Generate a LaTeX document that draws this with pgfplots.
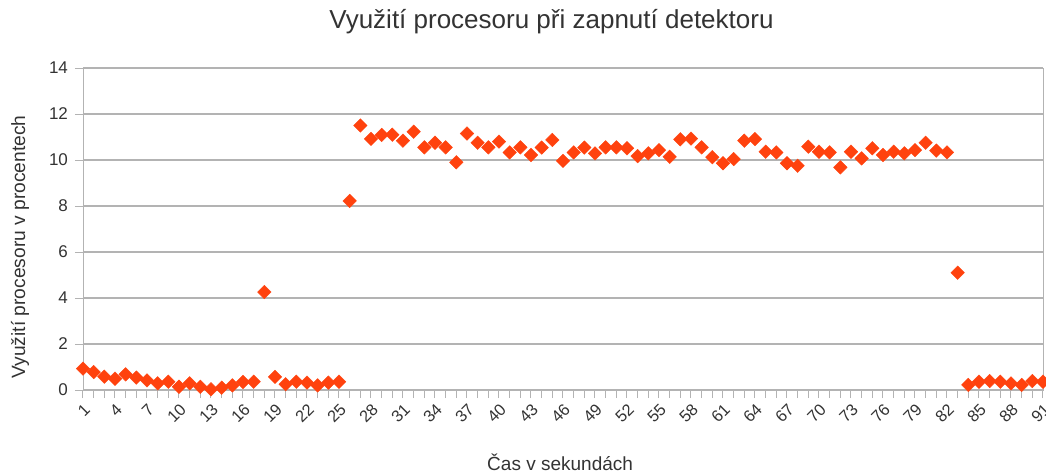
\documentclass[border=0pt]{standalone}
\usepackage{fontspec}
\setmainfont{Liberation Sans}
\usepackage{pgfplots}
\pgfplotsset{compat=1.18}
\definecolor{ser}{HTML}{FF420E}
\definecolor{gridc}{HTML}{B3B3B3}
\definecolor{txt}{HTML}{333333}
\begin{document}
\begin{tikzpicture}
\begin{axis}[
  scale only axis,
  width=480pt, height=161pt,
  xmin=1, xmax=91, ymin=0, ymax=14,
  clip=false,
  axis line style={gridc},
  every tick/.style={gridc, line width=0.5pt},
  tick align=outside,
  major tick length=4pt, minor tick length=4pt,
  xtick={1,4,...,91},
  minor xtick={1,...,91},
  ytick={0,2,...,14},
  ymajorgrids,
  grid style={gridc, line width=0.6pt},
  xtick pos=bottom, ytick pos=left,
  /pgf/number format/assume math mode=true,
  tick label style={font=\fontsize{8.5}{10}\selectfont, text=txt},
  xticklabel style={rotate=45, anchor=north east, inner sep=1.5pt, font=\fontsize{8.2}{10}\selectfont},
  title={Využití procesoru při zapnutí detektoru},
  title style={font=\fontsize{13}{15}\selectfont, text=txt, at={(axis description cs:0.488,1.143)}, anchor=center, yshift=-6pt},
  xlabel={Čas v sekundách},
  xlabel style={font=\fontsize{9.5}{11}\selectfont, text=txt, at={(axis description cs:0.497,-0.2236)}, anchor=center},
  ylabel={Využití procesoru v procentech},
  ylabel style={font=\fontsize{9.6}{11}\selectfont, text=txt, at={(axis description cs:-0.0656,0.444)}, anchor=center},
]
\addplot[only marks, mark=square*, mark size=2.4pt, mark options={rotate=45, fill=ser, draw=ser, line width=0.2pt}] coordinates {
(1,0.93) (2,0.78) (3,0.58) (4,0.49) (5,0.68) (6,0.54) (7,0.42) (8,0.29) (9,0.36) (10,0.14)
(11,0.29) (12,0.14) (13,0.03) (14,0.10) (15,0.20) (16,0.35) (17,0.36) (18,4.26) (19,0.57) (20,0.25)
(21,0.36) (22,0.32) (23,0.20) (24,0.32) (25,0.36) (26,8.22) (27,11.5) (28,10.92) (29,11.09) (30,11.1)
(31,10.84) (32,11.23) (33,10.55) (34,10.75) (35,10.55) (36,9.9) (37,11.15) (38,10.75) (39,10.55) (40,10.8)
(41,10.33) (42,10.55) (43,10.22) (44,10.54) (45,10.87) (46,9.96) (47,10.33) (48,10.54) (49,10.29) (50,10.55)
(51,10.55) (52,10.51) (53,10.17) (54,10.29) (55,10.43) (56,10.14) (57,10.9) (58,10.93) (59,10.55) (60,10.12)
(61,9.86) (62,10.04) (63,10.84) (64,10.91) (65,10.36) (66,10.33) (67,9.86) (68,9.75) (69,10.58) (70,10.36)
(71,10.33) (72,9.68) (73,10.36) (74,10.07) (75,10.51) (76,10.22) (77,10.36) (78,10.29) (79,10.43) (80,10.75)
(81,10.41) (82,10.33) (83,5.1) (84,0.22) (85,0.36) (86,0.39) (87,0.36) (88,0.29) (89,0.22) (90,0.39)
(91,0.36)
};
\end{axis}
\pgfresetboundingbox
\useasboundingbox (-41.5pt,-41pt) rectangle (481.5pt,195pt);
\end{tikzpicture}
\end{document}
